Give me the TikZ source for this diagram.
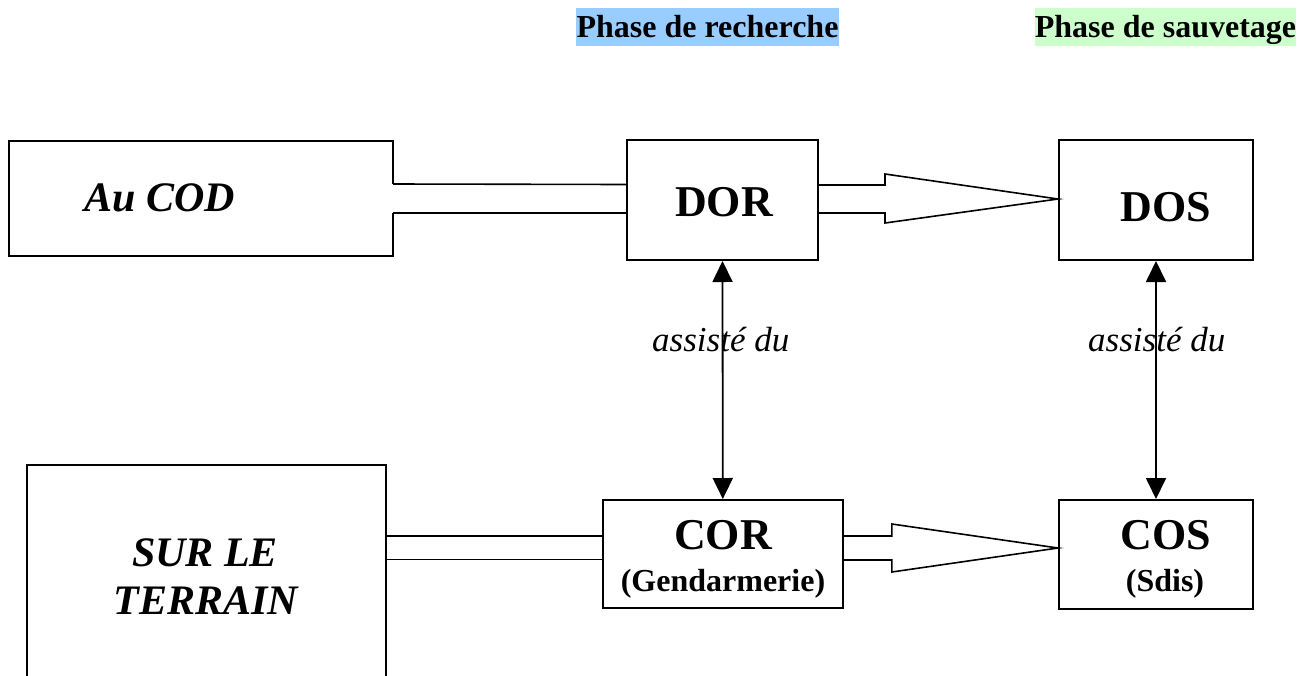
\documentclass[tikz,border=0pt]{standalone}
\usepackage{fontspec}
\setmainfont{Liberation Serif}
\usetikzlibrary{arrows.meta,calc}
\definecolor{hblue}{RGB}{153,204,255}
\definecolor{hgreen}{RGB}{204,255,204}
\begin{document}
\begin{tikzpicture}[x=1pt,y=-1pt,
  frame/.style={draw=black,line width=2pt,inner sep=0pt},
  outline/.style={draw=black,line width=2pt,line join=miter},
  conn/.style={draw=black,line width=1.6pt,line join=miter},
  varrow/.style={draw=black,line width=1.8pt,{Triangle[width=20pt,length=21pt]}-{Triangle[width=20pt,length=21pt]}},
  hdr/.style={font=\bfseries\fontsize{32}{38}\selectfont,inner sep=0pt,text height=21.7pt,text depth=0pt,minimum height=38pt},
  big/.style={font=\bfseries\fontsize{44}{50}\selectfont,inner sep=0pt,anchor=base},
  bigit/.style={font=\bfseries\itshape\fontsize{42}{48}\selectfont,inner sep=0pt,anchor=base},
  small/.style={font=\bfseries\fontsize{32}{36}\selectfont,inner sep=0pt,anchor=base},
  ital/.style={font=\itshape\fontsize{35}{40}\selectfont,inner sep=0pt,anchor=base west}
]
\useasboundingbox (0,0) rectangle (1301,675);
\clip (0,0) rectangle (1301,675);

% headers
\node[hdr,fill=hblue,minimum width=263pt] (h1) at (707.5,27) {Phase de recherche};
\node[hdr,fill=hgreen,minimum width=261pt] (h2) at (1165.5,27) {Phase de sauvetage};

% boxes
\node[frame,minimum width=191pt,minimum height=120pt] (dor) at (722.5,200) {};
\node[frame,minimum width=194pt,minimum height=120pt] (dos) at (1156,200) {};
\node[frame,minimum width=240pt,minimum height=108pt] (cor) at (722.8,554) {};
\node[frame,minimum width=194pt,minimum height=109pt] (cos) at (1156,554.5) {};
\node[inner sep=0pt,minimum width=384pt,minimum height=115pt] (cod) at (201,198.5) {};
\node[inner sep=0pt,minimum width=359pt,minimum height=230pt] (sur) at (206.5,580) {};

% Au COD outline, open where the double line leaves it
\coordinate (c1) at ($(cod.east)+(0,-14.5)$);
\coordinate (c2) at ($(cod.east)+(0,14.5)$);
\path[outline] (c1) -- (cod.north east) -- (cod.north west) -- (cod.south west) -- (cod.south east) -- (c2);
% Sur le terrain outline (cut by the page bottom)
\path[outline] (sur.south west) -- (sur.north west) -- (sur.north east) -- (sur.south east);

% double lines
\coordinate (d1) at ($(dor.west)+(0,-15.5)$);
\coordinate (d2) at ($(dor.west)+(0,13)$);
\path[conn] (c1) -- (d1);
\path[conn] (c2) -- (d2);
\coordinate (l1) at ($(cor.west)+(0,-18)$);
\coordinate (l2) at ($(cor.west)+(0,5.5)$);
\path[conn] (sur.east |- l1) -- (l1);
\path[conn] (sur.east |- l2) -- (l2);

% hollow arrows
\coordinate (a1) at ($(dor.east)+(0,-15)$);
\coordinate (a2) at ($(dor.east)+(0,13)$);
\path[conn] (a1) -- ($(a1)+(66,0)$) -- ($(a1)+(66,-11)$) -- ($(dos.west)+(0,-1)$)
  -- ($(a2)+(66,10)$) -- ($(a2)+(66,0)$) -- (a2);
\coordinate (b1) at ($(cor.east)+(0,-18)$);
\coordinate (b2) at ($(cor.east)+(0,6)$);
\path[conn] (b1) -- ($(b1)+(48,0)$) -- ($(b1)+(48,-12)$) -- ($(cos.west)+(0,-6.5)$)
  -- ($(b2)+(48,12)$) -- ($(b2)+(48,0)$) -- (b2);

% vertical double arrows
\path[varrow] (dor.south) -- (cor.north);
\path[varrow] (dos.south) -- (cos.north);

% texts
\node[bigit,anchor=base west] (codtxt) at (84,211) {Au COD};
\node[big] (dortxt) at (724,216) {DOR};
\node[big] (dostxt) at (1166,221) {DOS};
\node[big] (cortxt) at (723,549) {COR};
\node[small] (gend) at (723,591) {(Gendarmerie)};
\node[big] (costxt) at (1166,549) {COS};
\node[small] (sdis) at (1165,591) {(Sdis)};
\node[bigit] (sur1) at (205,566) {SUR LE};
\node[bigit] (sur2) at (206,614) {TERRAIN};
\node[ital] (as1) at (652,351) {assisté du};
\node[ital] (as2) at (1088,351) {assisté du};
\end{tikzpicture}
\end{document}
